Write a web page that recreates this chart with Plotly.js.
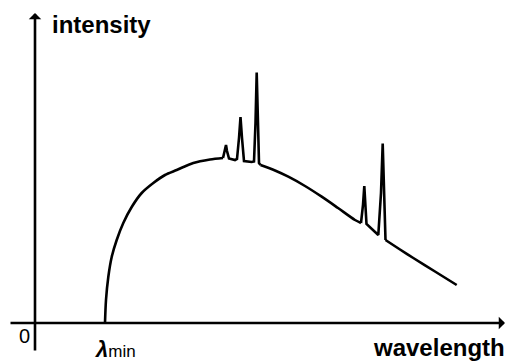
<!DOCTYPE html>
<html>
<head>
<meta charset="utf-8">
<script src="https://cdn.plot.ly/plotly-3.0.1.min.js"></script>
<style>html,body{margin:0;padding:0;background:#fff;}#chart{width:518px;height:364px;}</style>
</head>
<body>
<div id="chart"></div>
<script>
// Continuum segments (smooth), arbitrary units
const contWavelength1 = [70, 71, 73.3, 76.7, 81.7, 88.3, 96.7, 106.7, 118.3, 130, 141.7, 158.3, 175, 188];
const contIntensity1  = [0, 23, 46, 66, 83, 100, 116, 130, 140, 148, 153, 160, 163.5, 165];
const contWavelength2 = [225.5, 240, 253.3, 270, 286.7, 303, 320, 326];
const contIntensity2  = [158, 152.5, 146.3, 137, 126.3, 115, 103, 100];
const contWavelength3 = [350.5, 365, 378.3, 400, 421.7];
const contIntensity3  = [83, 73.5, 65, 51.5, 38];

// Characteristic-line region segments (sharp)
const peakWavelength1 = [188, 190, 191, 192, 194, 200, 202, 204, 205.5, 207, 209, 216.7, 219, 220.5, 221.7, 223, 224, 225.5];
const peakIntensity1  = [165, 172, 178, 172, 164.5, 163, 164, 185, 206, 185, 162, 161, 161.5, 200, 250.5, 200, 160, 158];
const peakWavelength2 = [326, 328, 329.3, 330.5, 331.5, 343.3, 346, 347.7, 349, 350.5];
const peakIntensity2  = [100, 118, 137, 118, 99, 88, 130, 179.5, 130, 83];

const axisLabels = {x: 'wavelength', y: 'intensity', origin: '0', min: 'λ', minSub: 'min'};

const lineStyle = {color: '#000', width: 2.6};
function tr(x, y, shape) {
  return {x: x, y: y, mode: 'lines', line: Object.assign({shape: shape, smoothing: 0.8}, lineStyle), hoverinfo: 'skip'};
}
const traces = [
  tr(contWavelength1, contIntensity1, 'spline'),
  tr(peakWavelength1, peakIntensity1, 'linear'),
  tr(contWavelength2, contIntensity2, 'spline'),
  tr(peakWavelength2, peakIntensity2, 'linear'),
  tr(contWavelength3, contIntensity3, 'spline')
];

const layout = {
  width: 518, height: 364,
  margin: {l: 0, r: 0, t: 0, b: 0, pad: 0},
  paper_bgcolor: '#fff', plot_bgcolor: '#fff',
  showlegend: false,
  xaxis: {range: [-35, 483], visible: false, fixedrange: true},
  yaxis: {range: [-41, 323], visible: false, fixedrange: true},
  font: {family: 'Liberation Sans, Arial, sans-serif', color: '#000'},
  annotations: [
    {x: 0, y: 310, ax: 0, ay: -29, xref: 'x', yref: 'y', axref: 'x', ayref: 'y', text: '', showarrow: true, arrowhead: 1, arrowsize: 0.8, arrowwidth: 2.6, arrowcolor: '#000', standoff: 0},
    {x: 470, y: 0, ax: -26, ay: 0, xref: 'x', yref: 'y', axref: 'x', ayref: 'y', text: '', showarrow: true, arrowhead: 1, arrowsize: 0.8, arrowwidth: 2.6, arrowcolor: '#000', standoff: 0},
    {x: 15, y: 299, xref: 'x', yref: 'y', text: axisLabels.y, showarrow: false, xanchor: 'left', yanchor: 'middle', font: {size: 24, weight: 'bold'}},
    {x: 472, y: -24, xref: 'x', yref: 'y', text: axisLabels.x, showarrow: false, xanchor: 'right', yanchor: 'middle', font: {size: 24, weight: 'bold'}},
    {x: -11, y: -13, xref: 'x', yref: 'y', text: axisLabels.origin, showarrow: false, xanchor: 'center', yanchor: 'middle', font: {size: 20}},
    {x: 58, y: -26, xref: 'x', yref: 'y', text: '<b><i>' + axisLabels.min + '</i></b><span style="font-size:17px">' + axisLabels.minSub + '</span>', showarrow: false, xanchor: 'left', yanchor: 'middle', font: {size: 22}}
  ]
};

Plotly.newPlot('chart', traces, layout, {staticPlot: true, displayModeBar: false});
</script>
</body>
</html>
